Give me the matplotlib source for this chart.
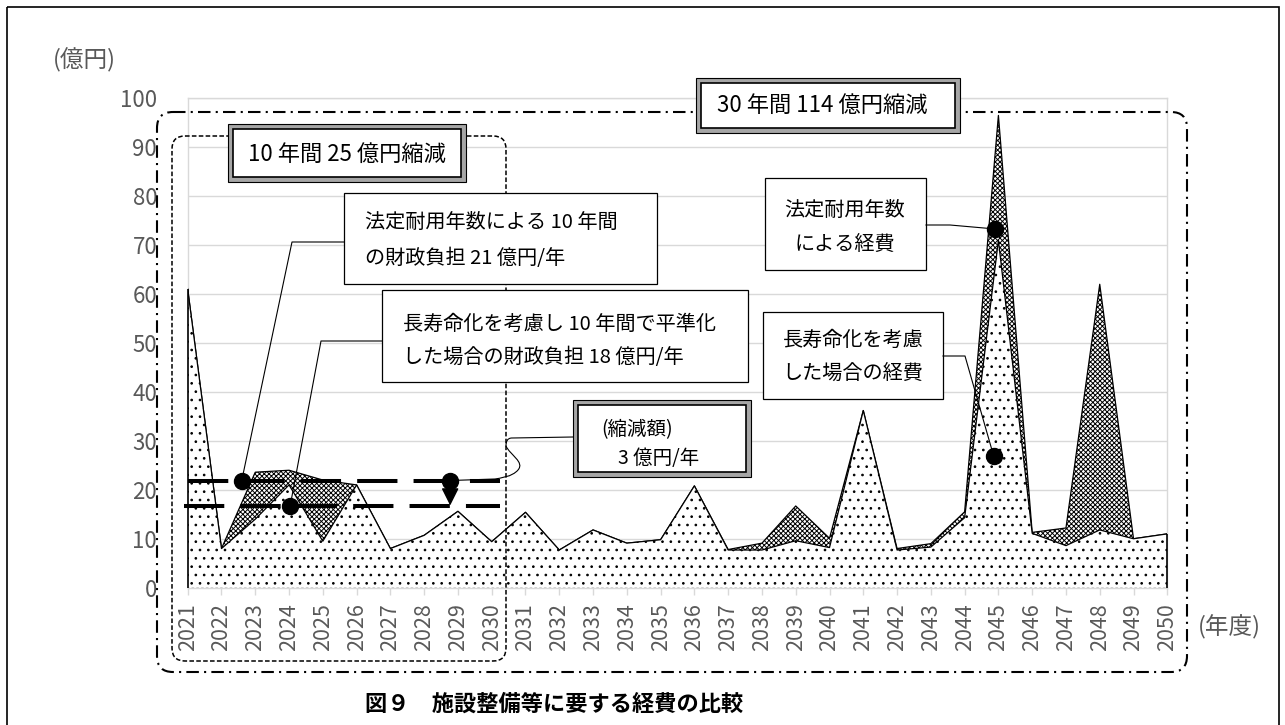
import numpy as np
import matplotlib.pyplot as plt
from matplotlib.patches import Rectangle, FancyBboxPatch
from matplotlib.path import Path
from matplotlib.patches import PathPatch

plt.rcParams['font.family'] = ['Noto Sans CJK JP', 'DejaVu Sans']
plt.rcParams['hatch.linewidth'] = 0.7

# 年度
years = list(range(2021, 2051))
# 法定耐用年数による経費 (億円)
statutory = [61, 8, 23.6, 24, 22, 21, 8, 10.7, 15.6, 9.4,
             15.4, 7.7, 11.8, 9.1, 9.8, 20.8, 7.8, 9.1, 16.7, 10.1,
             36.2, 8.0, 9.0, 15.5, 96.5, 11.3, 12.2, 62, 10, 11]
# 長寿命化を考慮した場合の経費 (億円)
long_life = [61, 8, 14, 21, 9.5, 21, 8, 10.7, 15.6, 9.4,
             15.4, 7.7, 11.8, 9.1, 9.8, 20.8, 7.7, 7.7, 9.6, 8.2,
             36.2, 7.7, 8.3, 14.3, 71, 11.1, 8.6, 11.8, 10, 11]
# 10年間の財政負担ライン (drawn levels)
avg_statutory = 21.9
avg_long_life = 16.6
yticks = list(range(0, 101, 10))

GRAY_TXT = '#595959'
GRID = '#d9d9d9'
W, H = 1285, 725

fig = plt.figure(figsize=(W / 100, H / 100), dpi=100)
ax = fig.add_axes([187.7 / W, 1 - 587.7 / H, (1167.3 - 187.7) / W, (587.7 - 98.3) / H])

ax.set_xlim(years[0], years[-1])
ax.set_ylim(0, 100)
ax.set_yticks(yticks)
ax.set_yticklabels([str(v) for v in yticks], color=GRAY_TXT, fontsize=16)
ax.set_xticks(years)
ax.set_xticklabels([str(y) for y in years], rotation=90, color=GRAY_TXT, fontsize=15.5)
ax.tick_params(axis='y', length=0, pad=22)
ax.tick_params(axis='x', length=5, width=1, color=GRID, pad=6)
ax.yaxis.grid(True, color=GRID, lw=1)
ax.set_axisbelow(True)
for s in ax.spines.values():
    s.set_color(GRID)
    s.set_linewidth(1)

# areas
ax.fill_between(years, 0, statutory, facecolor='white', edgecolor='black',
                hatch='xxxxxxx', lw=0, zorder=2)
ax.plot(years, statutory, color='black', lw=0.9, zorder=3)
ax.fill_between(years, 0, long_life, facecolor='white', edgecolor='black',
                hatch='..', lw=0, zorder=4)
ax.plot(years, long_life, color='black', lw=0.9, zorder=5)
ax.vlines([years[0], years[-1]], 0, [statutory[0], statutory[-1]],
          color='black', lw=1.2, zorder=6, clip_on=False)

# 10-year average lines
ax.plot([2021, 2030.25], [avg_statutory] * 2, color='black', lw=2.9,
        ls=(0, (10, 4)), zorder=7, clip_on=False)
ax.plot([2020.9, 2030.25], [avg_long_life] * 2, color='black', lw=2.9,
        ls=(0, (10, 4)), zorder=7, clip_on=False)

dot_a = (2022.6, avg_statutory)
dot_b = (2024.03, avg_long_life)
dot_c = (2028.77, avg_statutory)
dot_d = (2044.9, 73.3)
dot_e = (2044.86, 26.9)
for d in (dot_a, dot_b, dot_c, dot_d, dot_e):
    ax.plot(*d, 'o', ms=11.5, color='black', zorder=9)
ax.annotate('', xy=(dot_c[0], avg_long_life + 0.2), xytext=dot_c,
            arrowprops=dict(arrowstyle='-|>', color='black', lw=1,
                            mutation_scale=27, shrinkA=0, shrinkB=0), zorder=8)

# overlay in pixel coordinates
ov = fig.add_axes([0, 0, 1, 1])
ov.set_xlim(0, W)
ov.set_ylim(H, 0)
ov.axis('off')
ov.set_zorder(ax.get_zorder() + 1)


def to_px(pt):
    d = ax.transData.transform(pt)
    return ov.transData.inverted().transform(d)


# outer frame
ov.add_patch(Rectangle((7, 7), 1272, 740, fill=False, lw=1.2, ec='black', clip_on=False))

# rounded group boxes
ov.add_patch(FancyBboxPatch((157, 112), 1030, 560, boxstyle='round,pad=0,rounding_size=16',
                            fill=False, ec='black', lw=1.5, ls=(0, (6, 2.5, 1, 2.5))))
ov.add_patch(FancyBboxPatch((172, 136), 334, 525, boxstyle='round,pad=0,rounding_size=13',
                            fill=False, ec='black', lw=1.1, ls=(0, (3, 1.5))))


def double_box(x0, y0, x1, y1):
    ov.add_patch(Rectangle((x0, y0), x1 - x0, y1 - y0, fc='#a6a6a6', ec='black', lw=0.8))
    ov.add_patch(Rectangle((x0 + 5, y0 + 5), x1 - x0 - 10, y1 - y0 - 10,
                           fc='white', ec='black', lw=1.2))


def plain_box(x0, y0, x1, y1):
    ov.add_patch(Rectangle((x0, y0), x1 - x0, y1 - y0, fc='white', ec='black', lw=0.9))


double_box(228, 124, 466, 182)
ov.text(347, 154, '10 年間 25 億円縮減', fontsize=16, ha='center', va='center')
double_box(696, 78, 960, 133)
ov.text(822, 105, '30 年間 114 億円縮減', fontsize=16, ha='center', va='center')

plain_box(344, 193, 657, 284)
ov.text(365, 222, '法定耐用年数による 10 年間', fontsize=14.5, ha='left', va='center')
ov.text(365, 258, 'の財政負担 21 億円/年', fontsize=14.5, ha='left', va='center')

plain_box(382, 290, 748, 382)
ov.text(403, 324, '長寿命化を考慮し 10 年間で平準化', fontsize=14.5, ha='left', va='center')
ov.text(403, 357, 'した場合の財政負担 18 億円/年', fontsize=14.5, ha='left', va='center')

double_box(573, 400, 751, 477)
ov.text(601, 430, '(縮減額)', fontsize=14, ha='left', va='center')
ov.text(618, 458, '3 億円/年', fontsize=14, ha='left', va='center')

plain_box(765, 178, 926, 270)
ov.text(845, 210, '法定耐用年数', fontsize=14.5, ha='center', va='center')
ov.text(845, 244, 'による経費', fontsize=14.5, ha='center', va='center')

plain_box(763, 312, 943, 399)
ov.text(853, 340, '長寿命化を考慮', fontsize=14.5, ha='center', va='center')
ov.text(853, 373, 'した場合の経費', fontsize=14.5, ha='center', va='center')

# connectors
for pts, dot in [([(344, 242), (292, 242)], dot_a),
                 ([(382, 341), (321, 341)], dot_b),
                 ([(926, 225), (950, 225)], dot_d),
                 ([(943, 356), (965, 356)], dot_e)]:
    p = pts + [tuple(to_px(dot))]
    ov.plot([q[0] for q in p], [q[1] for q in p], color='black', lw=0.8)

cx, cy = to_px(dot_c)
verts = [(573, 437), (512, 438),
         (507, 438), (506, 442), (506, 446),
         (510, 455), (525, 462), (518, 470),
         (512, 477), (500, 478), (495, 479),
         (cx, cy)]
codes = [Path.MOVETO, Path.LINETO,
         Path.CURVE4, Path.CURVE4, Path.CURVE4,
         Path.CURVE4, Path.CURVE4, Path.CURVE4,
         Path.CURVE4, Path.CURVE4, Path.CURVE4,
         Path.LINETO]
ov.add_patch(PathPatch(Path(verts, codes), fill=False, ec='black', lw=0.8))

# axis unit labels
ov.text(53, 60, '(億円)', fontsize=17, color=GRAY_TXT, ha='left', va='center')
ov.text(1198, 627, '(年度)', fontsize=17, color=GRAY_TXT, ha='left', va='center')

# caption
ov.text(554, 704, '図９　施設整備等に要する経費の比較', fontsize=16, fontweight='bold',
        ha='center', va='center')

fig.savefig('out.png', dpi=100)
